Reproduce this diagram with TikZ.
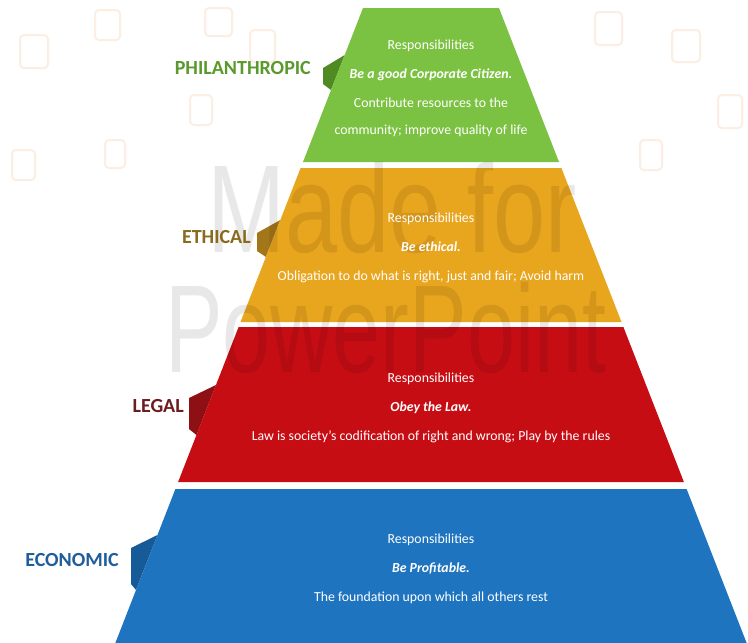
\documentclass[tikz,border=0pt]{standalone}
\usepackage{fontspec}
\setmainfont{Carlito}
\newfontfamily\wmfont{Liberation Sans}
\definecolor{gfill}{HTML}{7CC242}
\definecolor{glabel}{HTML}{5A9A2C}
\definecolor{gtab}{HTML}{4F8A22}
\definecolor{yfill}{HTML}{E8A51E}
\definecolor{ylabel}{HTML}{8A6A1E}
\definecolor{ytab}{HTML}{A4761A}
\definecolor{rfill}{HTML}{C70D14}
\definecolor{rlabel}{HTML}{6E1C20}
\definecolor{rtab}{HTML}{8E1014}
\definecolor{bfill}{HTML}{1F74C0}
\definecolor{blabel}{HTML}{1F5E9B}
\definecolor{btab}{HTML}{175A98}
\definecolor{iconc}{HTML}{FCEEE2}
\begin{document}
\begin{tikzpicture}[x=1pt,y=-1pt,
  bandtext/.style={text=white,align=center,font=\fontsize{13.8}{29}\selectfont,inner sep=0pt},
  levellabel/.style={font=\fontsize{20}{24}\bfseries\selectfont,anchor=east,inner sep=0pt},
  icon/.style={draw=iconc,line width=2pt,rounded corners=4pt},
  wm/.style={text=black,text opacity=0.09,font=\wmfont\fontsize{125}{125}\selectfont,anchor=base west,inner sep=0pt}]
\useasboundingbox (0,0) rectangle (748,643);
\fill[white] (0,0) rectangle (748,643);
% faint background icons
\draw[icon] (20,35) rectangle (48,68);
\draw[icon] (95,10) rectangle (120,40);
\draw[icon] (205,8) rectangle (232,36);
\draw[icon] (250,30) rectangle (275,62);
\draw[icon] (190,95) rectangle (212,125);
\draw[icon] (105,140) rectangle (125,168);
\draw[icon] (12,150) rectangle (35,180);
\draw[icon] (595,12) rectangle (622,45);
\draw[icon] (672,30) rectangle (700,62);
\draw[icon] (718,95) rectangle (742,128);
\draw[icon] (640,140) rectangle (662,170);
% tabs
\fill[gtab] (323,68) -- (344.7,55) -- (331,90) -- (323,84) -- cycle;
\fill[ytab] (257,233) -- (280.3,220) -- (265.9,257) -- (257,251) -- cycle;
\fill[rtab] (189,398) -- (216,385) -- (196.5,435) -- (189,429) -- cycle;
\fill[btab] (131,548) -- (157.5,535) -- (136,590) -- (131,584) -- cycle;
% bands
\fill[gfill] (363,8) -- (499,8) -- (559,162) -- (303,162) -- cycle;
\fill[yfill] (300.6,168) -- (561.4,168) -- (621.5,322) -- (240.5,322) -- cycle;
\fill[rfill] (238.6,327) -- (623.4,327) -- (683.9,482) -- (178.1,482) -- cycle;
\fill[bfill] (175.4,489) -- (686.6,489) -- (746.65,643) -- (115.35,643) -- cycle;
% watermark
\node[wm,xscale=0.75] (wm1) at (207,252) {Made for};
\node[wm,xscale=0.69] (wm2) at (165,372) {PowerPoint};
% band texts
\node[bandtext] (phtext) at (431,88) {Responsibilities\\\textbf{\itshape Be a good Corporate Citizen.}\\Contribute resources to the\\[-2pt]community; improve quality of life};
\node[bandtext] (ettext) at (431,248) {Responsibilities\\\textbf{\itshape Be ethical.}\\Obligation to do what is right, just and fair; Avoid harm};
\node[bandtext] (letext) at (431,408) {Responsibilities\\\textbf{\itshape Obey the Law.}\\Law is society’s codification of right and wrong; Play by the rules};
\node[bandtext] (ectext) at (431,569) {Responsibilities\\\textbf{\itshape Be Profitable.}\\The foundation upon which all others rest};
% level labels
\node[levellabel,text=glabel] (phil) at (311,68) {PHILANTHROPIC};
\node[levellabel,text=ylabel] (ethical) at (251,237) {ETHICAL};
\node[levellabel,text=rlabel] (legal) at (184,406) {LEGAL};
\node[levellabel,text=blabel] (economic) at (119,560) {ECONOMIC};
\end{tikzpicture}
\end{document}
